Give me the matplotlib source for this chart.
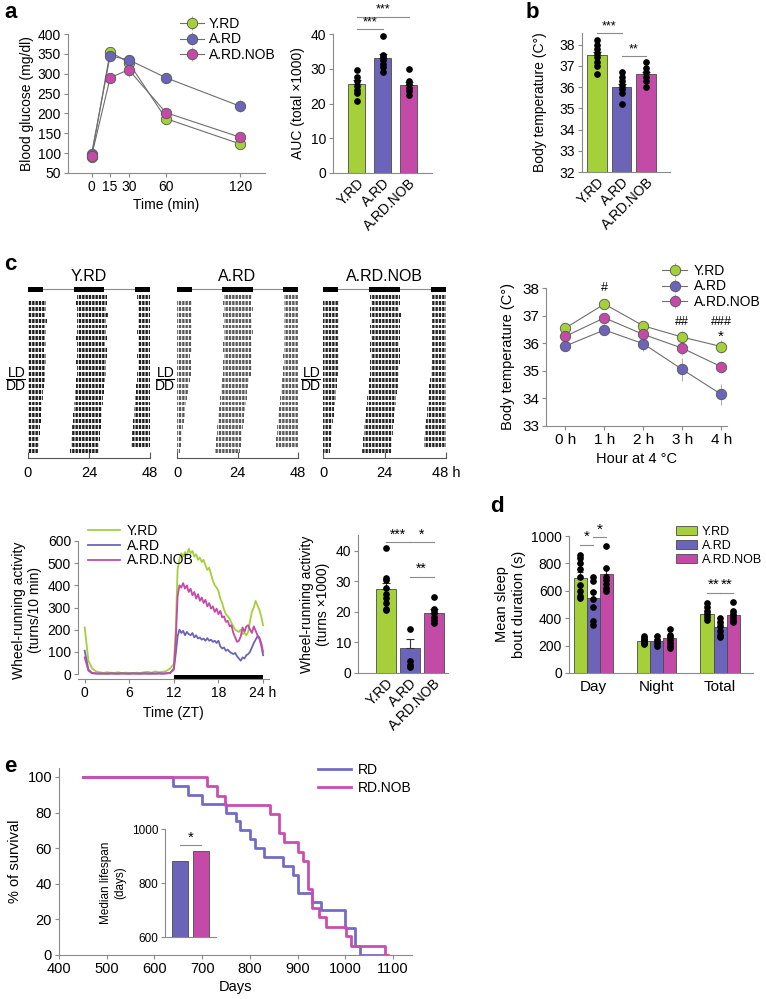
import numpy as np
import matplotlib
matplotlib.use("Agg")
import matplotlib.pyplot as plt

plt.rcParams['font.family'] = ['Liberation Sans', 'DejaVu Sans']
plt.rcParams['font.size'] = 10
plt.rcParams['hatch.linewidth'] = 0.7

GREEN = '#a5d03a'
BLUE = '#6c64b8'
MAGENTA = '#c44aa8'
GRAY = '#8a8a8a'
LINE_GRAY = '#6e6e6e'
EDGE = '#4a4a4a'
COLORS = [GREEN, BLUE, MAGENTA]
GROUPS = ['Y.RD', 'A.RD', 'A.RD.NOB']

# ---- a: glucose tolerance ----
gtt_time = [0, 15, 30, 60, 120]
gtt_mean = {
    'Y.RD': [90, 355, 328, 187, 123],
    'A.RD': [98, 345, 335, 290, 218],
    'A.RD.NOB': [92, 290, 310, 202, 140],
}
gtt_err = {
    'Y.RD': [5, 8, 10, 12, 8],
    'A.RD': [8, 8, 12, 8, 15],
    'A.RD.NOB': [5, 12, 18, 10, 8],
}
auc_mean = [25.5, 33.0, 25.3]
auc_err = [1.2, 1.2, 1.0]
auc_dots = [[29.7, 27.5, 26.5, 25.0, 24.0, 23.0, 20.7],
            [39.5, 34.0, 33.5, 32.5, 31.5, 30.5, 29.2],
            [30.0, 26.5, 25.5, 24.5, 23.5, 22.5]]

# ---- b: body temperature ----
bt_mean = [37.5, 36.0, 36.6]
bt_err = [0.15, 0.15, 0.1]
bt_dots = [[38.2, 38.0, 37.8, 37.6, 37.4, 37.2, 37.0, 36.6],
           [36.7, 36.5, 36.3, 36.1, 35.9, 35.7, 35.2],
           [37.2, 36.9, 36.7, 36.5, 36.3, 36.0]]

# ---- c: actograms (activity onset / offset in hours, per day) ----
lights_off = 18
lights_on = 6
act_onset = {
    'Y.RD': [19.3, 19.0, 19.2, 19.4, 19.1, 19.3, 19.2, 19.0, 19.3, 19.1, 19.2, 19.0, 19.2, 19.1,
             18.8, 18.7, 18.5, 18.3, 18.2, 18.0, 17.8, 17.6, 17.4, 17.2, 17.0, 16.8, 16.6],
    'A.RD': [18.5, 18.4, 18.6, 18.3, 18.5, 18.4, 18.6, 18.5, 18.3, 18.4, 18.5, 18.2, 18.4, 18.2,
             17.9, 17.6, 17.3, 17.1, 16.9, 16.7, 16.4, 16.2, 16.0, 15.8, 15.6, 15.4, 15.2],
    'A.RD.NOB': [18.5, 18.6, 18.4, 18.5, 18.7, 18.5, 18.4, 18.6, 18.5, 18.4, 18.6, 18.5, 18.4, 18.3,
                 18.0, 17.8, 17.5, 17.3, 17.1, 16.8, 16.6, 16.4, 16.1, 15.9, 15.7, 15.5, 15.3],
}
act_offset = {
    'Y.RD': [31.2, 31.0, 30.5, 31.4, 30.8, 31.0, 30.6, 31.2, 30.4, 30.9, 31.0, 30.5, 30.8, 30.6,
             30.2, 30.0, 29.8, 29.6, 29.5, 29.2, 29.0, 28.8, 28.7, 28.5, 28.2, 28.0, 27.9],
    'A.RD': [29.8, 29.5, 30.0, 29.4, 29.8, 29.6, 30.1, 29.5, 29.8, 29.3, 29.7, 29.4, 29.6, 29.2,
             28.6, 28.2, 27.8, 27.6, 27.2, 27.0, 26.6, 26.4, 26.0, 25.8, 25.6, 25.3, 25.0],
    'A.RD.NOB': [30.2, 30.0, 29.8, 30.4, 30.1, 29.9, 30.2, 30.0, 29.7, 30.1, 29.9, 30.2, 29.8, 29.6,
                 29.4, 29.1, 28.9, 28.6, 28.4, 28.1, 27.9, 27.7, 27.4, 27.2, 27.0, 26.8, 26.6],
}
act_color = {'Y.RD': '#1e1e1e', 'A.RD': '#5a5a5a', 'A.RD.NOB': '#262626'}

# ---- c: cold exposure ----
cold_hours = [0, 1, 2, 3, 4]
cold_labels = ['0 h', '1 h', '2 h', '3 h', '4 h']
cold_mean = {
    'Y.RD': [36.55, 37.42, 36.63, 36.22, 35.88],
    'A.RD': [35.90, 36.48, 35.98, 35.05, 34.15],
    'A.RD.NOB': [36.25, 36.92, 36.32, 35.82, 35.15],
}
cold_err = {
    'Y.RD': [0.15, 0.08, 0.18, 0.22, 0.25],
    'A.RD': [0.10, 0.20, 0.28, 0.42, 0.38],
    'A.RD.NOB': [0.12, 0.12, 0.15, 0.25, 0.22],
}

# ---- c: wheel running (30 min bins ZT 0-12, 15 min bins ZT 12-24) ----
day_zt = np.arange(0, 12, 0.5)
night_zt = np.arange(12, 24.01, 0.25)
wheel_day = {
    'Y.RD': [210, 60, 25, 12, 8, 5, 8, 6, 5, 8, 4, 6, 5, 4, 6, 5, 8, 10, 6, 12, 8, 10, 14, 25],
    'A.RD': [105, 20, 5, 3, 2, 2, 2, 3, 2, 2, 3, 2, 2, 3, 2, 2, 3, 2, 3, 2, 3, 2, 3, 5],
    'A.RD.NOB': [75, 15, 3, 2, 2, 2, 1, 2, 2, 1, 2, 2, 1, 2, 2, 1, 2, 2, 1, 2, 2, 2, 3, 5],
}
wheel_night = {
    'Y.RD': [45, 200, 470, 520, 545, 530, 550, 535, 565, 545,
             555, 530, 540, 515, 525, 505, 515, 490, 470, 480,
             450, 420, 400, 390, 375, 340, 320, 290, 270, 260,
             250, 230, 215, 200, 195, 190, 200, 180, 185, 175,
             190, 240, 280, 300, 330, 310, 290, 260, 220],
    'A.RD': [25, 90, 170, 200, 185, 195, 175, 190, 180, 175,
             185, 165, 175, 160, 165, 155, 160, 150, 162, 150,
             155, 145, 150, 140, 150, 125, 115, 120, 105, 110,
             100, 95, 90, 95, 80, 70, 60, 75, 70, 85,
             90, 100, 120, 140, 155, 170, 160, 130, 85],
    'A.RD.NOB': [20, 150, 350, 400, 390, 410, 385, 400, 370, 385,
                 355, 370, 340, 360, 330, 345, 320, 335, 305, 320,
                 295, 305, 280, 295, 270, 285, 255, 260, 235, 240,
                 215, 220, 185, 165, 145, 150, 170, 210, 190, 215,
                 220, 200, 185, 215, 195, 175, 165, 140, 100],
}
wheel_tot_mean = [27.5, 8.2, 19.8]
wheel_tot_err = [2.0, 2.8, 1.3]
wheel_tot_dots = [[40.8, 31.0, 30.5, 28.0, 26.0, 24.5, 23.0, 21.0, 20.5],
                  [14.5, 4.0, 2.5, 2.0],
                  [24.8, 21.0, 20.5, 19.5, 18.5, 17.5, 16.5]]

# ---- d: sleep bouts ----
sleep_phases = ['Day', 'Night', 'Total']
sleep_mean = {'Y.RD': [695, 235, 430], 'A.RD': [545, 230, 335], 'A.RD.NOB': [720, 255, 425]}
sleep_err = {'Y.RD': [40, 15, 20], 'A.RD': [55, 15, 20], 'A.RD.NOB': [50, 20, 20]}
sleep_dots = {
    'Y.RD': [[860, 840, 800, 760, 700, 640, 600, 560, 545], [270, 255, 240, 230, 220, 210],
             [510, 480, 450, 430, 410, 390]],
    'A.RD': [[700, 670, 590, 540, 480, 380, 350], [270, 240, 220, 200],
             [400, 370, 340, 310, 280, 260]],
    'A.RD.NOB': [[930, 765, 700, 680, 650, 620, 600], [320, 280, 260, 240, 220, 200, 180],
                 [515, 450, 430, 410, 390, 370]],
}

# ---- e: survival ----
rd_days = [450, 640, 670, 700, 750, 770, 780, 800, 810, 830, 870, 890, 900, 930, 950, 1000, 1020, 1030, 1086]
rd_surv = [100, 95, 90, 85, 80, 75, 70, 65, 60, 55, 50, 45, 35, 30, 25, 15, 5, 0, 0]
nob_days = [450, 710, 732, 748, 842, 861, 871, 901, 911, 922, 930, 945, 959, 1002, 1013, 1084, 1090]
nob_surv = [100, 94.7, 89.5, 84.2, 78.9, 68.4, 63.2, 57.9, 52.6, 36.8, 26.3, 21.1, 15.8, 10.5, 5.3, 0, 0]
median_life = [882, 918]

W, H = 766, 999
fig = plt.figure(figsize=(W / 100, H / 100), dpi=100)


def px_axes(left, top, right, bottom):
    return fig.add_axes([left / W, 1 - bottom / H, (right - left) / W, (bottom - top) / H])


def style(ax, size=10):
    for s in ['top', 'right']:
        ax.spines[s].set_visible(False)
    for s in ['left', 'bottom']:
        ax.spines[s].set_color(GRAY)
        ax.spines[s].set_linewidth(0.8)
    ax.tick_params(colors=GRAY, labelcolor='black', length=3, width=0.8, labelsize=size, pad=2)


def sig(ax, x1, x2, y, text, size=9):
    ax.plot([x1, x2], [y, y], color=GRAY, lw=0.8, clip_on=False)
    ax.annotate(text, ((x1 + x2) / 2, y), xytext=(0, 0.5), textcoords='offset points',
                ha='center', va='bottom', fontsize=size, annotation_clip=False)


def dot_bars(ax, xs, means, errs, dots, colors, width):
    ax.bar(xs, means, width=width, color=colors, edgecolor=EDGE, linewidth=0.6, zorder=2)
    ax.errorbar(xs, means, yerr=[[0] * len(errs), errs], fmt='none', ecolor='#333333',
                elinewidth=0.8, capsize=3, capthick=0.8, zorder=3)
    for x, d in zip(xs, dots):
        ax.plot([x] * len(d), d, 'o', color='black', ms=3.8, zorder=4, clip_on=False)


def legend_at(ax, x, y, **kw):
    ax.legend(loc='upper left', bbox_to_anchor=(x / W, 1 - y / H), bbox_transform=fig.transFigure,
              frameon=False, borderaxespad=0, borderpad=0, **kw)


def panel_letter(x, y, s):
    fig.text(x / W, 1 - y / H, s, fontsize=16, fontweight='bold', ha='left', va='center')


# ===== a: GTT lines =====
ax = px_axes(68, 34, 265, 173)
style(ax)
for g, c in zip(GROUPS, COLORS):
    ax.errorbar(gtt_time, gtt_mean[g], yerr=gtt_err[g], color=LINE_GRAY, lw=0.8, elinewidth=0.8,
                ecolor='#b0b0b0', marker='o', ms=7.5, mfc=c, mec='#555555', mew=0.6, label=g)
ax.set_xlim(-19, 140)
ax.set_ylim(50, 400)
ax.set_xticks(gtt_time)
ax.set_xticklabels(['0', '15', '30', '60', '120'])
ax.set_yticks(range(50, 401, 50))
ax.set_xlabel('Time (min)', labelpad=3)
ax.set_ylabel('Blood glucose (mg/dl)', labelpad=3)
legend_at(ax, 180, 17, handlelength=1.7, labelspacing=0.1, handletextpad=0.4, fontsize=10)

# ===== a: AUC =====
ax = px_axes(333, 34, 432, 173)
style(ax)
dot_bars(ax, [0, 1, 2], auc_mean, auc_err, auc_dots, COLORS, 0.65)
ax.set_xlim(-0.92, 2.9)
ax.set_ylim(0, 40)
ax.set_yticks([0, 10, 20, 30, 40])
ax.set_xticks([0, 1, 2])
ax.set_xticklabels(GROUPS, rotation=45, ha='right', rotation_mode='anchor')
ax.tick_params(axis='x', length=0)
ax.set_ylabel('AUC (total \u00d71000)', labelpad=4)
sig(ax, 0, 1, 41.5, '***', 9)
sig(ax, 0, 2, 45.0, '***', 9)

# ===== b: body temperature =====
ax = px_axes(582, 33, 670, 172)
style(ax)
dot_bars(ax, [0, 1, 2], bt_mean, bt_err, bt_dots, COLORS, 0.8)
ax.set_xlim(-0.6, 2.96)
ax.set_ylim(32, 38.55)
ax.set_yticks(range(32, 39))
ax.set_xticks([0, 1, 2])
ax.set_xticklabels(GROUPS, rotation=45, ha='right', rotation_mode='anchor')
ax.tick_params(axis='x', length=0)
ax.set_ylabel('Body temperature (C\u00b0)', labelpad=9)
sig(ax, 0, 1, 38.55, '***', 9)
sig(ax, 1, 2, 37.45, '**', 9)

# ===== c: actograms =====
act_boxes = [(28, 150), (177, 298), (323, 446)]
for i, (g, (l, r)) in enumerate(zip(GROUPS, act_boxes)):
    ax = px_axes(l, 285, r, 458)
    onsets, offsets = act_onset[g], act_offset[g]
    n = len(onsets)
    for row in range(n):
        segs = []
        for k in (row - 1, row, row + 1):
            if 0 <= k < n:
                a = max(onsets[k] + 24 * (k - row), 0)
                b = min(offsets[k] + 24 * (k - row), 48)
                if b > a:
                    segs.append((a, b - a))
        ax.broken_barh(segs, (row - 0.33, 0.66), facecolor=act_color[g], edgecolor='white',
                       hatch='|||||', linewidth=0)
    # light/dark bar
    ax.plot([0, 48], [-1.25, -1.25], color=GRAY, lw=0.8, zorder=0)
    dark = []
    for k in (-1, 0, 1):
        a = max(lights_off + 24 * k, 0)
        b = min(lights_on + 24 * (k + 1), 48)
        if b > a:
            dark.append((a, b - a))
    ax.broken_barh(dark, (-1.6, 0.7), facecolor='black', zorder=2)
    ax.set_xlim(0, 48)
    ax.set_ylim(27.2, -2)
    for s in ['top', 'right', 'left']:
        ax.spines[s].set_visible(False)
    ax.spines['bottom'].set_color('#555555')
    ax.set_yticks([])
    ax.set_xticks([0, 24, 48])
    ax.set_xticklabels(['0', '24', '48 h' if i == 2 else '48'], fontsize=10.5)
    ax.tick_params(axis='x', direction='in', length=4, color='#555555', pad=6)
    ax.text(24, -3.5, g, ha='center', va='center', fontsize=11.5)
    ax.text(-1.0, 12.8, 'LD', ha='right', va='center', fontsize=10)
    ax.plot([-8.5, -1.0], [13.9, 13.9], color='black', lw=0.8, clip_on=False)
    ax.text(-1.0, 15.1, 'DD', ha='right', va='center', fontsize=10)
panel_letter(4, 265, 'c')

# ===== c: cold exposure =====
ax = px_axes(546, 288, 727, 426)
style(ax, 11)
for g, c in zip(GROUPS, COLORS):
    ax.errorbar(cold_hours, cold_mean[g], yerr=cold_err[g], color=LINE_GRAY, lw=0.8,
                elinewidth=0.8, ecolor='#b0b0b0', marker='o', ms=7.5, mfc=c, mec='#555555',
                mew=0.6, label=g)
ax.set_xlim(-0.5, 4.15)
ax.set_ylim(33, 38)
ax.set_xticks(cold_hours)
ax.set_xticklabels(cold_labels)
ax.set_yticks(range(33, 39))
ax.set_xlabel('Hour at 4 \u00b0C', labelpad=4, fontsize=10.5)
ax.set_ylabel('Body temperature (C\u00b0)', labelpad=5, fontsize=10.5)
ax.text(1, 38.0, '#', ha='center', va='center', fontsize=9)
ax.text(3, 36.78, '##', ha='center', va='center', fontsize=9)
ax.text(4, 36.78, '###', ha='center', va='center', fontsize=9)
ax.text(4, 36.22, '*', ha='center', va='center', fontsize=11)
legend_at(ax, 662, 264, handlelength=1.8, labelspacing=0.1, handletextpad=0.5, fontsize=10)

# ===== c: wheel running profile =====
ax = px_axes(78, 541, 269, 679)
style(ax)
for g, c in zip(GROUPS, COLORS):
    ax.plot(np.concatenate([day_zt, night_zt]), wheel_day[g] + wheel_night[g],
            color=c, lw=1.3, label=g)
ax.broken_barh([(12, 12)], (-21, 16), facecolor='black')
ax.set_xlim(-0.9, 24.8)
ax.set_ylim(-22.5, 600)
ax.spines['left'].set_bounds(0, 600)
ax.set_xticks([0, 6, 12, 18, 24])
ax.set_xticklabels(['0', '6', '12', '18', '24 h'])
ax.set_yticks(range(0, 601, 100))
ax.set_xlabel('Time (ZT)', labelpad=4)
ax.set_ylabel('Wheel-running activity\n(turns/10 min)', labelpad=4)
legend_at(ax, 88, 524, handlelength=2.3, labelspacing=0.05, handletextpad=0.5, fontsize=10)

# ===== c: wheel running totals =====
ax = px_axes(358, 535, 448, 673)
style(ax)
dot_bars(ax, [0, 1, 2], wheel_tot_mean, wheel_tot_err, wheel_tot_dots, COLORS, 0.83)
ax.set_xlim(-1.15, 2.6)
ax.set_ylim(0, 45.2)
ax.set_yticks([0, 10, 20, 30, 40])
ax.set_xticks([0, 1, 2])
ax.set_xticklabels(GROUPS, rotation=45, ha='right', rotation_mode='anchor')
ax.tick_params(axis='x', length=0)
ax.set_ylabel('Wheel-running activity\n(turns \u00d71000)', labelpad=4)
sig(ax, 0, 1, 42.8, '***', 10)
sig(ax, 1, 2, 42.8, '*', 10)
sig(ax, 1, 2, 31.5, '**', 10)

# ===== d: sleep bouts =====
ax = px_axes(569, 536, 753, 673)
style(ax)
bw = 0.205
for j, (g, c) in enumerate(zip(GROUPS, COLORS)):
    xs = [p + (j - 1) * bw for p in range(3)]
    ax.bar(xs, sleep_mean[g], width=bw, color=c, edgecolor=EDGE, linewidth=0.6, label=g, zorder=2)
    ax.errorbar(xs, sleep_mean[g], yerr=[[0, 0, 0], sleep_err[g]], fmt='none', ecolor='#333333',
                elinewidth=0.8, capsize=2.5, capthick=0.8, zorder=3)
    for x, d in zip(xs, sleep_dots[g]):
        ax.plot([x] * len(d), d, 'o', color='black', ms=3.8, zorder=4)
ax.set_xlim(-0.38, 2.52)
ax.set_ylim(0, 1000)
ax.set_xticks([0, 1, 2])
ax.set_xticklabels(sleep_phases, fontsize=11)
ax.tick_params(axis='x', length=0, pad=5)
ax.set_yticks(range(0, 1001, 200))
ax.set_ylabel('Mean sleep\nbout duration (s)', labelpad=4, fontsize=10.5)
sig(ax, -bw, 0, 935, '*', 11)
sig(ax, 0, bw, 990, '*', 11)
sig(ax, 2 - bw, 2, 585, '**', 11)
sig(ax, 2, 2 + bw, 585, '**', 11)
legend_at(ax, 676, 526, handlelength=1.7, handleheight=0.75, labelspacing=0.15, handletextpad=0.35,
          fontsize=9)
panel_letter(490, 507, 'd')

# ===== e: survival =====
ax = px_axes(59, 768, 412, 955)
style(ax, 10.5)
ax.step(rd_days, rd_surv, where='post', color='#736cc6', lw=2, label='RD')
ax.step(nob_days, nob_surv, where='post', color='#cc4db0', lw=2, label='RD.NOB')
ax.set_xlim(400, 1140)
ax.set_ylim(0, 105)
ax.set_xticks(range(400, 1101, 100))
ax.set_yticks(range(0, 101, 20))
ax.set_xlabel('Days', labelpad=3, fontsize=10.5)
ax.set_ylabel('% of survival', labelpad=4, fontsize=10.5)
legend_at(ax, 318, 763, handlelength=2.4, labelspacing=0.3, handletextpad=0.5, fontsize=10)
panel_letter(4, 766, 'e')

ax = px_axes(165, 829, 216, 937)
style(ax, 8.5)
ax.bar([0, 1], median_life, width=0.76, color=['#6c64b8', '#c44aa8'], edgecolor=EDGE, linewidth=0.6)
ax.set_xlim(-0.71, 1.71)
ax.set_ylim(600, 1000)
ax.set_yticks([600, 800, 1000])
ax.set_xticks([])
ax.set_ylabel('Median lifespan\n(days)', fontsize=8.5, labelpad=4)
sig(ax, 0, 1, 940, '*', 11)

panel_letter(4, 12, 'a')
panel_letter(526, 12, 'b')

fig.savefig('out.png', dpi=100)
